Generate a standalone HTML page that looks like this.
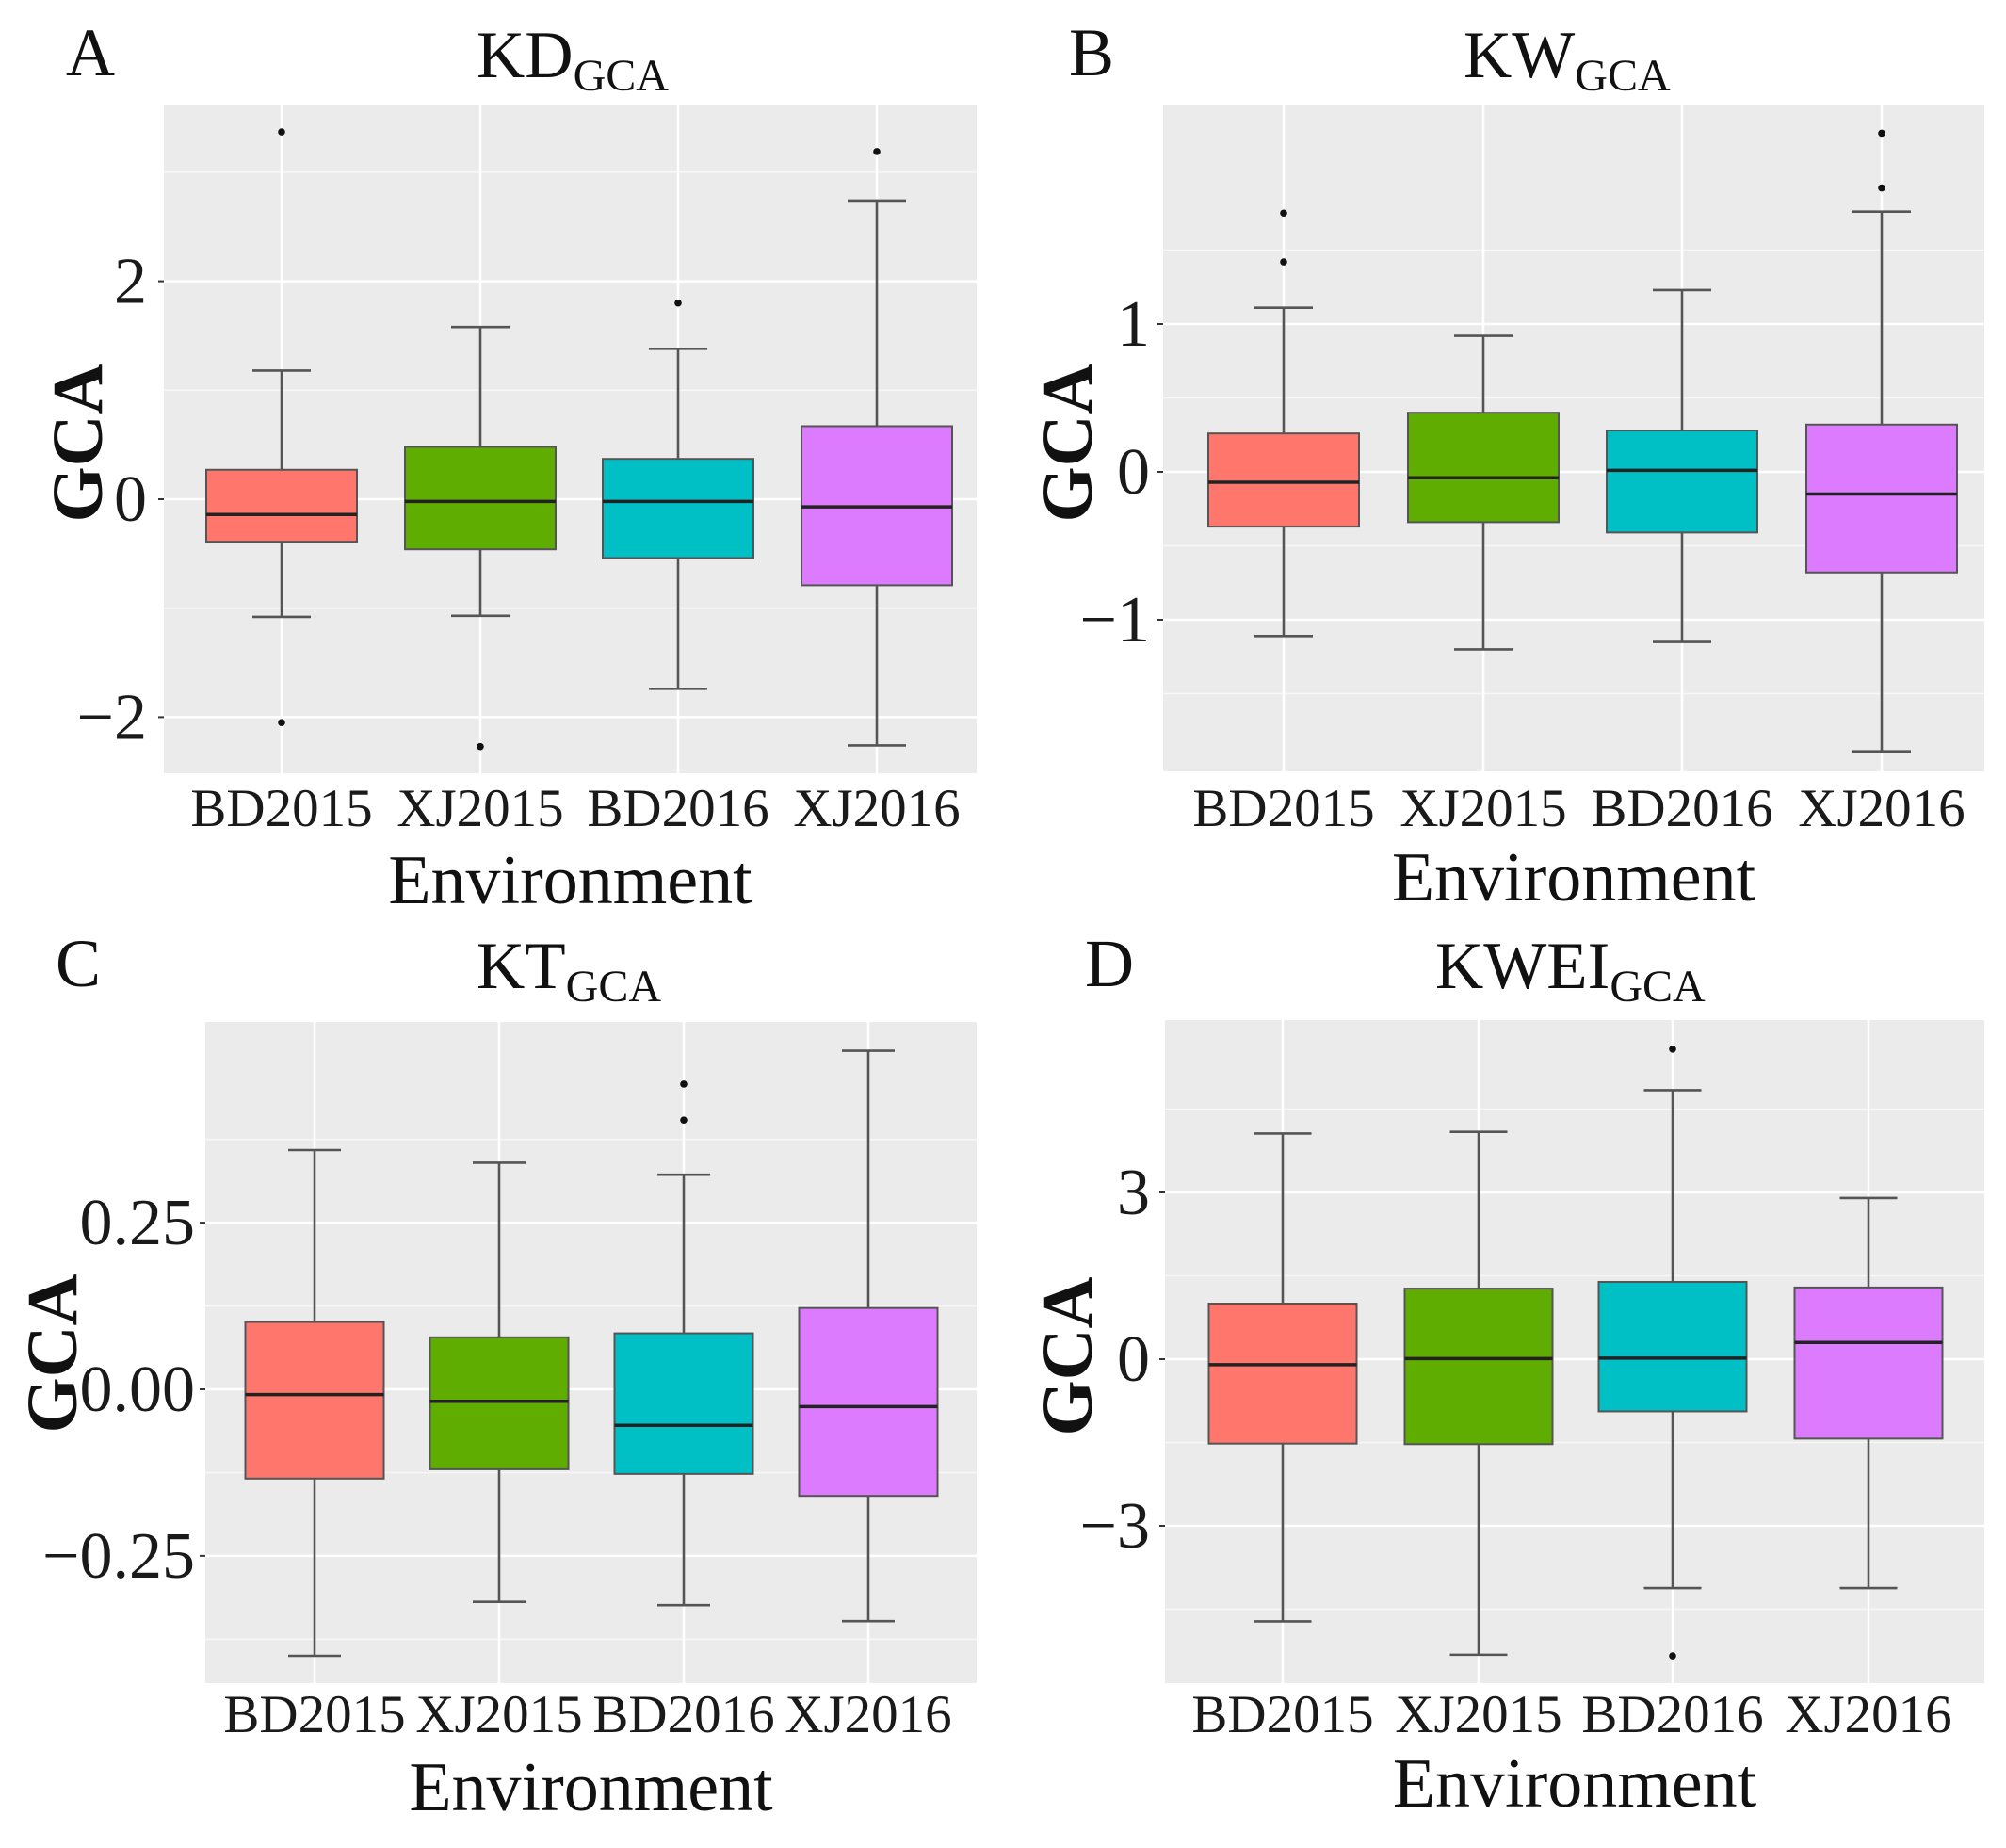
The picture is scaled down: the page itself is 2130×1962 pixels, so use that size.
<!DOCTYPE html>
<html><head><meta charset="utf-8">
<style>
html,body{margin:0;padding:0;background:#fff;}
svg{display:block;font-family:"Liberation Serif","Times New Roman",serif;}
</style></head>
<body>
<svg id="fig" width="2130" height="1962" viewBox="0 0 2130 1962" xmlns="http://www.w3.org/2000/svg"></svg>
<script>
const categories = ["BD2015","XJ2015","BD2016","XJ2016"];
const colors = ["#FF766C","#5FAD00","#00C0C6","#DD7BFF"];
// Panel A KD
const kdLow = [-1.08,-1.07,-1.74,-2.26];
const kdQ1 = [-0.39,-0.46,-0.54,-0.79];
const kdMed = [-0.14,-0.02,-0.02,-0.07];
const kdQ3 = [0.27,0.48,0.37,0.67];
const kdHigh = [1.18,1.58,1.38,2.74];
const kdOut = [[3.37,-2.05],[-2.27],[1.80],[3.19]];
const kdTicks = [-2,0,2];
const kdTickLabels = ["\u22122","0","2"];
const kdMinor = [-3,-1,1,3];
// Panel B KW
const kwLow = [-1.11,-1.20,-1.15,-1.89];
const kwQ1 = [-0.37,-0.34,-0.41,-0.68];
const kwMed = [-0.07,-0.04,0.01,-0.15];
const kwQ3 = [0.26,0.40,0.28,0.32];
const kwHigh = [1.11,0.92,1.23,1.76];
const kwOut = [[1.75,1.42],[],[],[2.29,1.92]];
const kwTicks = [-1,0,1];
const kwTickLabels = ["\u22121","0","1"];
const kwMinor = [-1.5,-0.5,0.5,1.5];
// Panel C KT
const ktLow = [-0.40,-0.319,-0.324,-0.348];
const ktQ1 = [-0.134,-0.12,-0.127,-0.16];
const ktMed = [-0.008,-0.018,-0.054,-0.026];
const ktQ3 = [0.101,0.078,0.084,0.122];
const ktHigh = [0.359,0.340,0.322,0.508];
const ktOut = [[],[],[0.458,0.404],[]];
const ktTicks = [-0.25,0,0.25];
const ktTickLabels = ["\u22120.25","0.00","0.25"];
const ktMinor = [-0.375,-0.125,0.125,0.375];
// Panel D KWEI
const kweiLow = [-4.72,-5.32,-4.12,-4.12];
const kweiQ1 = [-1.52,-1.53,-0.94,-1.43];
const kweiMed = [-0.10,0.01,0.02,0.30];
const kweiQ3 = [1.00,1.27,1.39,1.29];
const kweiHigh = [4.06,4.09,4.84,2.90];
const kweiOut = [[],[],[5.58,-5.34],[]];
const kweiTicks = [-3,0,3];
const kweiTickLabels = ["\u22123","0","3"];
const kweiMinor = [-4.5,-1.5,1.5,4.5];

const NS="http://www.w3.org/2000/svg";
const svg=document.getElementById('fig');
function mk(tag,attrs,parent){const e=document.createElementNS(NS,tag);for(const k in attrs)e.setAttribute(k,attrs[k]);(parent||svg).appendChild(e);return e;}

const panels=[
 {key:"a",letter:"A",title:"KD",lx:70,ly:80,tx:506,ty:82,left:174,right:1037,top:112,bottom:821,y0:530,unit:115.7,cx:[299,510,720,931],bw:160,cap:62,tickR:156,gcaX:82,gcaY:470,xlabY:877,envY:959,
  low:kdLow,q1:kdQ1,med:kdMed,q3:kdQ3,high:kdHigh,out:kdOut,ticks:kdTicks,tl:kdTickLabels,minor:kdMinor},
 {key:"b",letter:"B",title:"KW",lx:1135,ly:80,tx:1554,ty:82,left:1235,right:2107,top:112,bottom:819,y0:501,unit:157,cx:[1363,1575,1786,1998],bw:160,cap:62,tickR:1221,gcaX:1133,gcaY:470,xlabY:877,envY:956,
  low:kwLow,q1:kwQ1,med:kwMed,q3:kwQ3,high:kwHigh,out:kwOut,ticks:kwTicks,tl:kwTickLabels,minor:kwMinor},
 {key:"c",letter:"C",title:"KT",lx:59,ly:1047,tx:506,ty:1049,left:218,right:1037,top:1085,bottom:1787,y0:1475,unit:707.5,cx:[334,530,726,922],bw:147,cap:56,tickR:207,gcaX:55,gcaY:1437,xlabY:1839,envY:1922,
  low:ktLow,q1:ktQ1,med:ktMed,q3:ktQ3,high:ktHigh,out:ktOut,ticks:ktTicks,tl:ktTickLabels,minor:ktMinor},
 {key:"d",letter:"D",title:"KWEI",lx:1152,ly:1047,tx:1524,ty:1049,left:1237,right:2107,top:1083,bottom:1787,y0:1443,unit:59,cx:[1362,1570,1776,1984],bw:157,cap:61,tickR:1221,gcaX:1133,gcaY:1440,xlabY:1839,envY:1918,
  low:kweiLow,q1:kweiQ1,med:kweiMed,q3:kweiQ3,high:kweiHigh,out:kweiOut,ticks:kweiTicks,tl:kweiTickLabels,minor:kweiMinor}
];

panels.forEach(p=>{
 const g=mk('g',{});
 
 
 const y=v=>p.y0-v*p.unit;
 const bg=mk('rect',{x:p.left,y:p.top,width:p.right-p.left,height:p.bottom-p.top,fill:'#EBEBEB'},g);
 
 
 p.minor.forEach(v=>{const yy=y(v);if(yy>p.top&&yy<p.bottom){const l=mk('line',{x1:p.left,x2:p.right,y1:yy,y2:yy,stroke:'#F7F7F7','stroke-width':1.5},g);
  
  }});
 p.ticks.forEach((v,i)=>{const yy=y(v);
  const l=mk('line',{x1:p.left,x2:p.right,y1:yy,y2:yy,stroke:'#FFFFFF','stroke-width':2.5},g);
  
  
  const t=mk('text',{x:p.tickR,y:yy+23,'text-anchor':'end','font-size':70,fill:'#1a1a1a'},g);
  t.textContent=p.tl[i];
  
  
  const tk=mk('line',{x1:p.left-6,x2:p.left,y1:yy,y2:yy,stroke:'#333','stroke-width':2},g);
  
  
 });
 categories.forEach((c,i)=>{const x=p.cx[i];
  const vl=mk('line',{x1:x,x2:x,y1:p.top,y2:p.bottom,stroke:'#FFFFFF','stroke-width':2.5},g);
  
  
  const t=mk('text',{x:x,y:p.xlabY,'text-anchor':'middle','font-size':57,fill:'#1a1a1a'},g);
  t.textContent=c;
  
  
 });
 categories.forEach((c,i)=>{const x=p.cx[i];const bg2=mk('g',{},g);
  
  
  const st={stroke:'#555','stroke-width':2.6};
  mk('line',Object.assign({x1:x,x2:x,y1:y(p.high[i]),y2:y(p.q3[i])},st),bg2);
  mk('line',Object.assign({x1:x,x2:x,y1:y(p.q1[i]),y2:y(p.low[i])},st),bg2);
  mk('line',Object.assign({x1:x-p.cap/2,x2:x+p.cap/2,y1:y(p.high[i]),y2:y(p.high[i])},st),bg2);
  mk('line',Object.assign({x1:x-p.cap/2,x2:x+p.cap/2,y1:y(p.low[i]),y2:y(p.low[i])},st),bg2);
  mk('rect',{x:x-p.bw/2,y:y(p.q3[i]),width:p.bw,height:y(p.q1[i])-y(p.q3[i]),fill:colors[i],stroke:'#555','stroke-width':2},bg2);
  mk('line',{x1:x-p.bw/2,x2:x+p.bw/2,y1:y(p.med[i]),y2:y(p.med[i]),stroke:'#222','stroke-width':3.5},bg2);
  p.out[i].forEach(v=>{const d=mk('circle',{cx:x,cy:y(v),r:3.8,fill:'#111'},bg2);
   
   });
 });
 const L=mk('text',{x:p.lx,y:p.ly,'font-size':72,fill:'#111'},g);
 L.textContent=p.letter;
 
 
 const T=mk('text',{x:p.tx,y:p.ty,'font-size':71,fill:'#111'},g);
 
 
 const s1=mk('tspan',{},T);s1.textContent=p.title;
 const s2=mk('tspan',{'font-size':48,dy:14},T);s2.textContent='GCA';
 const G=mk('text',{x:p.gcaX,y:p.gcaY,'font-size':76,'font-weight':'bold','text-anchor':'middle',transform:`rotate(-90 ${p.gcaX} ${p.gcaY})`,dy:26,fill:'#111'},g);
 G.textContent='GCA';
 
 
 const E=mk('text',{x:(p.left+p.right)/2,y:p.envY,'font-size':74,'text-anchor':'middle',fill:'#111'},g);
 E.textContent='Environment';
 
 
});
</script>
</body></html>
